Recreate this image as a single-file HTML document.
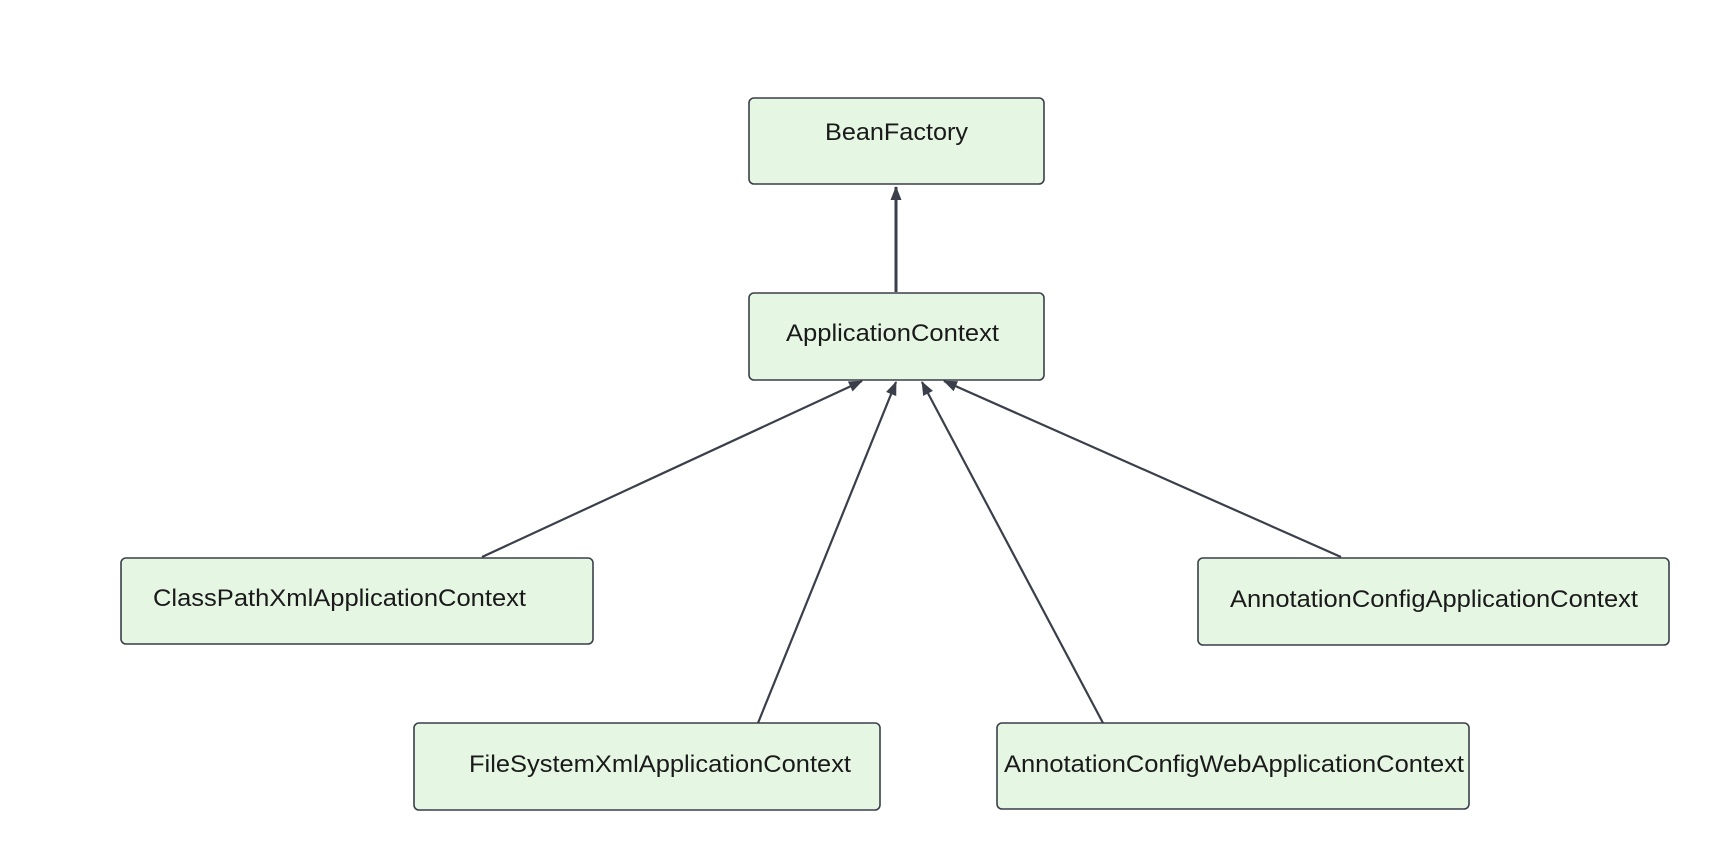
<!DOCTYPE html>
<html><head><meta charset="utf-8"><style>html,body{margin:0;padding:0;background:#fff;}svg{display:block}</style></head>
<body>
<svg width="1726" height="848" viewBox="0 0 1726 848" xmlns="http://www.w3.org/2000/svg" font-family="Liberation Sans, Arial, sans-serif" font-size="24" fill="#1a1a1a">
<defs><marker id="a" markerWidth="10" markerHeight="10" refX="9" refY="5" orient="auto" markerUnits="userSpaceOnUse" viewBox="0 0 10 10"><path d="M0,0 L10,5 L0,10 z" fill="#3a3f4a"/></marker>
<marker id="b" markerWidth="14" markerHeight="14" refX="13" refY="7" orient="auto" markerUnits="userSpaceOnUse" viewBox="0 0 14 14"><path d="M0,1.5 L14,7 L0,12.5 z" fill="#3a3f4a"/></marker></defs>
<g fill="#e5f6e3" stroke="#3a3f4a" stroke-width="1.6">
<rect x="749" y="98" width="295" height="86" rx="5"/>
<rect x="749" y="293" width="295" height="87" rx="5"/>
<rect x="121" y="558" width="472" height="86" rx="5"/>
<rect x="1198" y="558" width="471" height="87" rx="5"/>
<rect x="414" y="723" width="466" height="87" rx="5"/>
<rect x="997" y="723" width="472" height="86" rx="5"/>
</g>
<g stroke="#3a3f4a" stroke-width="2.2" fill="none">
<line x1="896" y1="292" x2="896" y2="187" stroke-width="3" marker-end="url(#b)"/>
<line x1="482" y1="557" x2="862" y2="381" marker-end="url(#b)"/>
<line x1="758" y1="723" x2="896" y2="382" marker-end="url(#b)"/>
<line x1="1103" y1="723" x2="922" y2="382" marker-end="url(#b)"/>
<line x1="1341" y1="557" x2="944" y2="381" marker-end="url(#b)"/>
</g>
<text x="825" y="140" textLength="143" lengthAdjust="spacingAndGlyphs">BeanFactory</text>
<text x="786" y="341" textLength="213" lengthAdjust="spacingAndGlyphs">ApplicationContext</text>
<text x="153" y="606" textLength="373" lengthAdjust="spacingAndGlyphs">ClassPathXmlApplicationContext</text>
<text x="1230" y="607" textLength="408" lengthAdjust="spacingAndGlyphs">AnnotationConfigApplicationContext</text>
<text x="469" y="772" textLength="382" lengthAdjust="spacingAndGlyphs">FileSystemXmlApplicationContext</text>
<text x="1004" y="772" textLength="460" lengthAdjust="spacingAndGlyphs">AnnotationConfigWebApplicationContext</text>
</svg>
</body></html>
